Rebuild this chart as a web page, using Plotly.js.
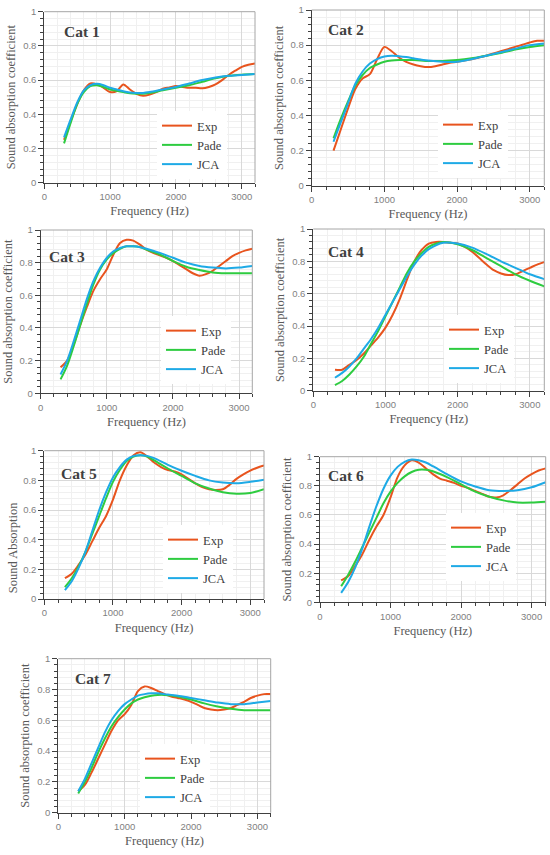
<!DOCTYPE html>
<html><head><meta charset="utf-8">
<script src="https://cdn.plot.ly/plotly-3.0.1.min.js"></script>
<style>html,body{margin:0;padding:0;background:#fff}#chart{width:550px;height:855px}</style>
</head><body><div id="chart"></div>
<script>
// ---------- DATA ----------
const categories = ['Cat 1', 'Cat 2', 'Cat 3', 'Cat 4', 'Cat 5', 'Cat 6', 'Cat 7'];
const seriesNames = ['Exp', 'Pade', 'JCA'];
const xTitle = 'Frequency (Hz)';
const yTitles = ['Sound absorption coefficient', 'Sound absorption coefficient', 'Sound absorption coefficient',
                 'Sound absorption coefficient', 'Sound Absorption', 'Sound absorption coefficient',
                 'Sound absorption coefficient'];

const freqExp = [300, 400, 500, 600, 700, 800, 900, 1000, 1100, 1200, 1300, 1400, 1500, 1600, 1700,
                 1800, 1900, 2000, 2100, 2200, 2300, 2400, 2500, 2600, 2700, 2800, 2900, 3000, 3100, 3200];
const freqModel = [300, 400, 500, 600, 700, 800, 900, 1000, 1100, 1200, 1300, 1400, 1500, 1600,
                   1800, 2000, 2200, 2400, 2600, 2800, 3000, 3200];

const cat1Exp  = [0.25, 0.36, 0.46, 0.54, 0.58, 0.575, 0.555, 0.53, 0.535, 0.575, 0.545, 0.52, 0.508, 0.515, 0.53,
                  0.55, 0.557, 0.565, 0.56, 0.555, 0.555, 0.552, 0.56, 0.575, 0.6, 0.63, 0.655, 0.677, 0.69, 0.697];
const cat1Pade = [0.23, 0.35, 0.46, 0.53, 0.565, 0.57, 0.56, 0.545, 0.537, 0.53, 0.523, 0.52, 0.52, 0.525,
                  0.54, 0.555, 0.57, 0.59, 0.61, 0.625, 0.632, 0.635];
const cat1JCA  = [0.265, 0.37, 0.47, 0.54, 0.57, 0.578, 0.57, 0.555, 0.545, 0.535, 0.528, 0.525, 0.525, 0.53,
                  0.545, 0.56, 0.58, 0.6, 0.615, 0.625, 0.63, 0.635];

const cat2Exp  = [0.2, 0.32, 0.44, 0.55, 0.61, 0.635, 0.72, 0.79, 0.765, 0.73, 0.705, 0.69, 0.68, 0.675, 0.68,
                  0.69, 0.7, 0.705, 0.712, 0.72, 0.73, 0.74, 0.752, 0.765, 0.777, 0.79, 0.802, 0.815, 0.825, 0.825];
const cat2Pade = [0.27, 0.38, 0.48, 0.57, 0.63, 0.67, 0.69, 0.705, 0.712, 0.715, 0.716, 0.715, 0.713, 0.71,
                  0.71, 0.715, 0.725, 0.74, 0.755, 0.775, 0.79, 0.8];
const cat2JCA  = [0.25, 0.36, 0.47, 0.58, 0.65, 0.695, 0.72, 0.735, 0.74, 0.737, 0.732, 0.725, 0.718, 0.712,
                  0.705, 0.705, 0.72, 0.74, 0.76, 0.78, 0.8, 0.81];

const cat3Exp  = [0.16, 0.2, 0.3, 0.42, 0.53, 0.63, 0.7, 0.76, 0.85, 0.92, 0.94, 0.935, 0.91, 0.88, 0.86,
                  0.845, 0.83, 0.81, 0.785, 0.76, 0.735, 0.72, 0.73, 0.75, 0.78, 0.81, 0.84, 0.86, 0.875, 0.885];
const cat3Pade = [0.085, 0.17, 0.29, 0.42, 0.55, 0.67, 0.76, 0.82, 0.86, 0.885, 0.9, 0.9, 0.895, 0.88,
                  0.85, 0.81, 0.775, 0.755, 0.74, 0.735, 0.735, 0.735];
const cat3JCA  = [0.115, 0.2, 0.32, 0.45, 0.58, 0.69, 0.77, 0.83, 0.87, 0.89, 0.9, 0.9, 0.895, 0.885,
                  0.86, 0.83, 0.8, 0.78, 0.77, 0.765, 0.77, 0.78];

const cat4Exp  = [0.13, 0.13, 0.16, 0.19, 0.23, 0.28, 0.33, 0.39, 0.47, 0.57, 0.69, 0.8, 0.87, 0.91, 0.92,
                  0.92, 0.915, 0.91, 0.89, 0.86, 0.82, 0.78, 0.745, 0.725, 0.715, 0.72, 0.74, 0.76, 0.78, 0.795];
const cat4Pade = [0.035, 0.06, 0.1, 0.15, 0.21, 0.29, 0.37, 0.46, 0.55, 0.64, 0.73, 0.8, 0.85, 0.89,
                  0.92, 0.905, 0.87, 0.82, 0.77, 0.72, 0.68, 0.645];
const cat4JCA  = [0.08, 0.11, 0.15, 0.2, 0.26, 0.32, 0.39, 0.47, 0.55, 0.63, 0.71, 0.78, 0.835, 0.875,
                  0.915, 0.91, 0.885, 0.845, 0.8, 0.76, 0.72, 0.69];

const cat5Exp  = [0.14, 0.17, 0.23, 0.3, 0.39, 0.48, 0.56, 0.67, 0.8, 0.9, 0.97, 0.99, 0.96, 0.92, 0.89,
                  0.87, 0.86, 0.84, 0.81, 0.78, 0.755, 0.74, 0.735, 0.74, 0.77, 0.81, 0.84, 0.865, 0.885, 0.9];
const cat5Pade = [0.08, 0.14, 0.22, 0.32, 0.44, 0.56, 0.68, 0.79, 0.87, 0.93, 0.96, 0.97, 0.96, 0.935,
                  0.88, 0.83, 0.78, 0.745, 0.72, 0.71, 0.715, 0.74];
const cat5JCA  = [0.06, 0.12, 0.21, 0.32, 0.46, 0.6, 0.72, 0.82, 0.89, 0.94, 0.965, 0.97, 0.965, 0.95,
                  0.905, 0.865, 0.83, 0.8, 0.785, 0.78, 0.79, 0.805];

const cat6Exp  = [0.15, 0.18, 0.25, 0.33, 0.43, 0.52, 0.6, 0.72, 0.86, 0.94, 0.975, 0.96, 0.92, 0.88, 0.85,
                  0.835, 0.82, 0.8, 0.785, 0.765, 0.745, 0.725, 0.72, 0.735, 0.77, 0.81, 0.85, 0.88, 0.905, 0.92];
const cat6Pade = [0.11, 0.19, 0.28, 0.38, 0.48, 0.58, 0.68, 0.76, 0.82, 0.865, 0.895, 0.91, 0.91, 0.9,
                  0.86, 0.81, 0.76, 0.725, 0.7, 0.685, 0.685, 0.69];
const cat6JCA  = [0.065, 0.14, 0.24, 0.37, 0.52, 0.66, 0.78, 0.87, 0.93, 0.965, 0.98, 0.975, 0.96, 0.935,
                  0.88, 0.83, 0.795, 0.77, 0.765, 0.77, 0.79, 0.825];

const cat7Exp  = [0.14, 0.18, 0.26, 0.35, 0.44, 0.53, 0.6, 0.64, 0.7, 0.79, 0.82, 0.81, 0.79, 0.77, 0.755,
                  0.745, 0.735, 0.72, 0.7, 0.68, 0.67, 0.665, 0.67, 0.68, 0.7, 0.72, 0.745, 0.76, 0.77, 0.77];
const cat7Pade = [0.125, 0.2, 0.29, 0.39, 0.48, 0.56, 0.62, 0.67, 0.71, 0.735, 0.75, 0.76, 0.765, 0.765,
                  0.755, 0.735, 0.71, 0.69, 0.675, 0.665, 0.665, 0.665];
const cat7JCA  = [0.14, 0.22, 0.32, 0.42, 0.52, 0.6, 0.66, 0.705, 0.735, 0.76, 0.77, 0.775, 0.775, 0.77,
                  0.76, 0.745, 0.73, 0.715, 0.705, 0.705, 0.715, 0.725];

const expSeries  = [cat1Exp, cat2Exp, cat3Exp, cat4Exp, cat5Exp, cat6Exp, cat7Exp];
const padeSeries = [cat1Pade, cat2Pade, cat3Pade, cat4Pade, cat5Pade, cat6Pade, cat7Pade];
const jcaSeries  = [cat1JCA, cat2JCA, cat3JCA, cat4JCA, cat5JCA, cat6JCA, cat7JCA];

// ---------- LAYOUT / STYLE ----------
const W = 550, H = 855;
const colors = ['#E8541E', '#2ECC40', '#1EAAE6'];
const serif = 'Liberation Serif, Times New Roman, serif';
const sans = 'Liberation Sans, Arial, sans-serif';

// plot boxes in pixels: left, right, top, bottom
const boxes = [
  {l: 44.3, r: 255,   t: 11.7,  b: 182.7, lx: 157, ly: 145, cx: 61.7,  cy: 31.3},
  {l: 311.7, r: 544.3, t: 10,   b: 185.7, lx: 438, ly: 144, cx: 325.7, cy: 29.3},
  {l: 40.7, r: 252.3, t: 230,   b: 393.3, lx: 161, ly: 350, cx: 46.7,  cy: 256},
  {l: 313.3, r: 544.3, t: 229,  b: 390.7, lx: 444, ly: 349, cx: 325.7, cy: 251.7},
  {l: 44.3, r: 264,   t: 450.7, b: 599,   lx: 163, ly: 559, cx: 59.3,  cy: 473.3},
  {l: 320,  r: 545.7, t: 456.7, b: 602.3, lx: 446, ly: 547, cx: 325.7, cy: 475},
  {l: 58.3, r: 270.7, t: 658.7, b: 812.7, lx: 140, ly: 778, cx: 72.7,  cy: 678.3}
];

const layout = {
  width: W, height: H,
  margin: {l: 0, r: 0, t: 0, b: 0},
  paper_bgcolor: '#ffffff', plot_bgcolor: '#ffffff',
  showlegend: true,
  annotations: [], shapes: []
};
const data = [];

boxes.forEach((bx, i) => {
  const suf = i === 0 ? '' : String(i + 1);
  const xa = 'x' + suf, ya = 'y' + suf;
  const lg = 'legend' + suf;
  const useAxisTitle = i !== 4;
  layout['xaxis' + suf] = {
    domain: [bx.l / W, bx.r / W], anchor: ya, range: [0, 3200],
    tick0: 0, dtick: 1000, ticks: 'outside', ticklen: 5, tickcolor: '#404040',
    showline: true, linecolor: '#404040', linewidth: 1, zeroline: false,
    showgrid: true, gridcolor: '#d9d9d9', gridwidth: 1,
    minor: {dtick: 200, tick0: 0, ticks: 'outside', ticklen: 3, tickcolor: '#404040', showgrid: true, gridcolor: '#f0f0f0'},
    tickfont: {family: sans, size: 9.5, color: '#7f7f7f'},
    title: {text: xTitle, font: {family: serif, size: 12.5, color: '#595959'}, standoff: 5},
    fixedrange: true
  };
  layout['yaxis' + suf] = {
    domain: [1 - bx.b / H, 1 - bx.t / H], anchor: xa, range: [0, 1],
    tick0: 0, dtick: 0.2, ticks: 'outside', ticklen: 5, tickcolor: '#404040',
    showline: true, linecolor: '#404040', linewidth: 1, zeroline: false,
    showgrid: true, gridcolor: '#d9d9d9', gridwidth: 1,
    minor: {dtick: 0.04, tick0: 0, ticks: 'outside', ticklen: 3, tickcolor: '#404040', showgrid: true, gridcolor: '#f0f0f0'},
    tickfont: {family: sans, size: 9.5, color: '#7f7f7f'},
    title: useAxisTitle ? {text: yTitles[i], font: {family: serif, size: 12.5, color: '#595959'}, standoff: 4} : {text: ''},
    fixedrange: true
  };
  if (!useAxisTitle) {
    layout.annotations.push({
      text: yTitles[i], xref: 'paper', yref: 'paper', x: 12.7 / W, y: 1 - 547.5 / H,
      xanchor: 'center', yanchor: 'middle', textangle: -90, showarrow: false,
      font: {family: serif, size: 12.5, color: '#595959'}
    });
  }
  layout[lg] = {
    x: bx.lx / W, y: 1 - bx.ly / H, xanchor: 'left', yanchor: 'middle',
    bgcolor: '#ffffff', borderwidth: 0,
    font: {family: serif, size: 12.5, color: '#404040'},
    itemwidth: 30, tracegroupgap: 0
  };
  // top + right frame lines (grey)
  layout.shapes.push({type: 'line', xref: xa + ' domain', yref: ya + ' domain', x0: 0, x1: 1, y0: 1, y1: 1,
                      line: {color: '#a6a6a6', width: 1}, layer: 'above'});
  layout.shapes.push({type: 'line', xref: xa + ' domain', yref: ya + ' domain', x0: 1, x1: 1, y0: 0, y1: 1,
                      line: {color: '#a6a6a6', width: 1}, layer: 'above'});
  // category label
  layout.annotations.push({
    text: '<b>' + categories[i] + '</b>', xref: 'paper', yref: 'paper',
    x: bx.cx / W, y: 1 - bx.cy / H, xanchor: 'left', yanchor: 'middle', showarrow: false,
    font: {family: serif, size: 15.5, color: '#404040'}
  });

  const sets = [[freqExp, expSeries[i]], [freqModel, padeSeries[i]], [freqModel, jcaSeries[i]]];
  sets.forEach((s, k) => {
    data.push({
      type: 'scatter', mode: 'lines', name: seriesNames[k],
      x: s[0], y: s[1], xaxis: xa, yaxis: ya, legend: lg,
      line: {color: colors[k], width: 2, shape: 'spline', smoothing: 0.8},
      hoverinfo: 'x+y+name'
    });
  });
});

Plotly.newPlot('chart', data, layout, {staticPlot: true, displayModeBar: false});
</script>
</body></html>
